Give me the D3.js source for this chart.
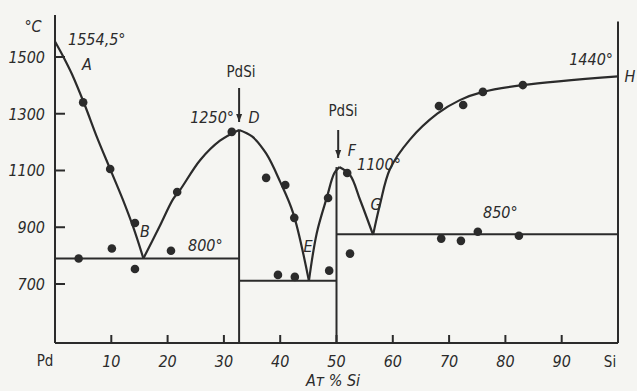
<!DOCTYPE html>
<html lang="ru">
<head>
<meta charset="UTF-8">
<title>Pd–Si</title>
<style>
  body { margin: 0; background: #f5f5f2; }
  svg { display: block; }
  .ax { stroke: #2b2b2b; stroke-width: 2; fill: none; }
  .curve { stroke: #2b2b2b; stroke-width: 2.2; fill: none; }
  .lbl { font-family: 'DejaVu Sans Condensed', 'DejaVu Sans', sans-serif; font-style: italic; fill: #2b2b2b; font-size: 16px; }
  .up { font-family: 'DejaVu Sans Condensed', 'DejaVu Sans', sans-serif; fill: #2b2b2b; font-size: 15px; }
</style>
</head>
<body>
<div id="chart"></div>
<script src="https://d3js.org/d3.v7.min.js"></script>
<script>
// ось
const xTicks = [10, 20, 30, 40, 50, 60, 70, 80, 90];
const yTicks = [700, 900, 1100, 1300, 1500];

// линии ликвидуса
const curveAB = [[0, 1554.5], [1.5, 1500], [3, 1440], [5.3, 1330], [7.5, 1215], [9.8, 1105], [12, 1000], [13.9, 900], [15.7, 790]];
const curveBD = [[15.7, 790], [18.5, 900], [21, 1000], [22.2, 1031], [25.8, 1137], [29.3, 1205], [32.7, 1243]];
const curveDE = [[32.7, 1243], [35, 1220], [37.5, 1160], [40, 1060], [42.3, 950], [45.1, 711]];
const curveEF = [[45.1, 711], [46.5, 880], [48.3, 1006], [49.6, 1090], [50.5, 1112]];
const curveFG = [[50.5, 1112], [52.4, 1084], [54.2, 996], [56.5, 873]];
const curveGH = [[56.5, 873], [57.7, 978], [59.5, 1105], [63, 1208], [67.9, 1300], [71.9, 1348], [76, 1377], [83, 1401], [100, 1432]];

// горизонтали (эвтектики)
const hLines = [[0, 32.7, 790], [32.7, 50, 711], [50, 100, 875]];
// вертикали соединений
const vLines = [[32.7, 492, 1243], [50, 492, 1112], [100, 492, 1625]];

// экспериментальные точки
const dotX = [5, 9.8, 21.7, 4.2, 10.1, 14.2, 14.2, 20.6, 39.6, 42.6, 42.5, 31.4, 37.5, 40.9, 48.5, 51.9, 48.7, 52.4, 68.6, 72.1, 75.1, 82.4, 68.2, 72.5, 76, 83.1];
const dotT = [1340, 1105, 1024, 790, 825, 915, 753, 817, 732, 725, 933, 1236, 1074, 1049, 1003, 1091, 747, 807, 860, 852, 884, 870, 1327, 1331, 1377, 1401];

const W = 637, H = 391;
const svg = d3.select('#chart').append('svg').attr('width', W).attr('height', H);

const x = d3.scaleLinear().domain([0, 100]).range([55, 618]);
const y = d3.scaleLinear().domain([492, 1648]).range([343, 15]);

// оси
svg.append('line').attr('class', 'ax').attr('x1', x(0)).attr('x2', x(0)).attr('y1', y(492)).attr('y2', y(1648));
svg.append('line').attr('class', 'ax').attr('x1', x(0)).attr('x2', x(100)).attr('y1', y(492)).attr('y2', y(492));

svg.selectAll('.yt').data(yTicks).enter().append('line')
  .attr('class', 'ax').attr('x1', x(0)).attr('x2', x(0) + 10)
  .attr('y1', d => y(d)).attr('y2', d => y(d));
svg.selectAll('.ytl').data(yTicks).enter().append('text')
  .attr('class', 'lbl').attr('x', 45).attr('y', d => y(d) + 6)
  .attr('text-anchor', 'end').text(d => d);

svg.selectAll('.xt').data(xTicks).enter().append('line')
  .attr('class', 'ax').attr('x1', d => x(d)).attr('x2', d => x(d))
  .attr('y1', y(492)).attr('y2', y(492) - 8);
svg.selectAll('.xtl').data(xTicks).enter().append('text')
  .attr('class', 'lbl').attr('x', d => x(d)).attr('y', 367)
  .attr('text-anchor', 'middle').text(d => d);

svg.append('text').attr('class', 'up').attr('x', 45).attr('y', 366).attr('text-anchor', 'middle').text('Pd');
svg.append('text').attr('class', 'up').attr('x', 610).attr('y', 367).attr('text-anchor', 'middle').text('Si');
svg.append('text').attr('class', 'lbl').attr('x', 33).attr('y', 32).attr('text-anchor', 'middle').text('°C');
svg.append('text').attr('class', 'lbl').attr('x', 333).attr('y', 386).attr('text-anchor', 'middle').text('Ат % Si');

// горизонтали и вертикали
svg.selectAll('.hl').data(hLines).enter().append('line')
  .attr('class', 'ax').attr('x1', d => x(d[0])).attr('x2', d => x(d[1]))
  .attr('y1', d => y(d[2])).attr('y2', d => y(d[2]));
svg.selectAll('.vl').data(vLines).enter().append('line')
  .attr('class', 'ax').attr('x1', d => x(d[0])).attr('x2', d => x(d[0]))
  .attr('y1', d => y(d[1])).attr('y2', d => y(d[2]));

// кривые
const line = d3.line().x(d => x(d[0])).y(d => y(d[1])).curve(d3.curveCatmullRom.alpha(0.5));
[curveAB, curveBD, curveDE, curveEF, curveFG, curveGH].forEach(c => {
  svg.append('path').attr('class', 'curve').attr('d', line(c));
});

// точки
svg.selectAll('.dot').data(dotX).enter().append('circle')
  .attr('cx', d => x(d)).attr('cy', (d, i) => y(dotT[i]))
  .attr('r', 4.3).attr('fill', '#2b2b2b');

// стрелки PdSi
function arrow(px, y1, y2) {
  svg.append('line').attr('class', 'ax').attr('stroke-width', 1.5)
    .attr('x1', px).attr('x2', px).attr('y1', y1).attr('y2', y2);
  svg.append('path').attr('fill', '#2b2b2b')
    .attr('d', `M${px - 3},${y2 - 8}L${px + 3},${y2 - 8}L${px},${y2}Z`);
}
arrow(x(32.7), 88, 122);
arrow(x(50.3), 130, 158);
svg.append('text').attr('class', 'up').attr('x', 241).attr('y', 77).attr('text-anchor', 'middle').text('PdSi');
svg.append('text').attr('class', 'up').attr('x', 343).attr('y', 116).attr('text-anchor', 'middle').text('PdSi');

// подписи точек
const ann = [
  ['1554,5°', 68, 45, 'start'], ['A', 87, 70, 'middle'],
  ['1250°', 234, 123, 'end'], ['D', 254, 123, 'middle'],
  ['F', 352, 156, 'middle'], ['1100°', 357, 170, 'start'],
  ['G', 376, 210, 'middle'], ['E', 308, 252, 'middle'],
  ['B', 145, 237, 'middle'], ['800°', 188, 251, 'start'],
  ['850°', 483, 218, 'start'], ['1440°', 613, 65, 'end'],
  ['H', 630, 82, 'middle']
];
ann.forEach(a => {
  svg.append('text').attr('class', 'lbl').attr('x', a[1]).attr('y', a[2])
    .attr('text-anchor', a[3]).text(a[0]);
});
</script>
</body>
</html>
